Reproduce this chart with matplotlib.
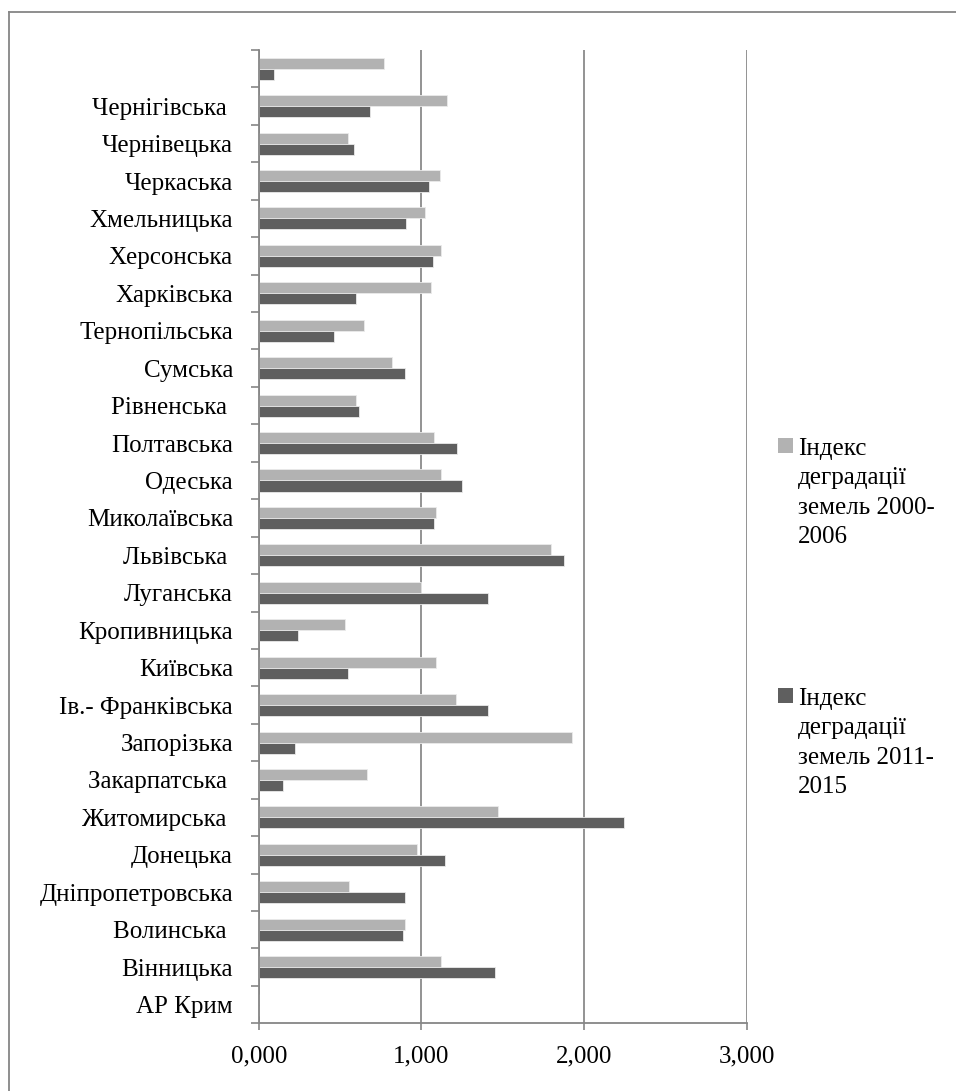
import matplotlib
matplotlib.use("Agg")
import matplotlib.pyplot as plt
from matplotlib.patches import Rectangle
from matplotlib.lines import Line2D
import numpy as np

plt.rcParams["font.family"] = ["Liberation Serif", "DejaVu Serif"]

# Regions, listed bottom to top
regions = ["АР Крим", "Вінницька", "Волинська ", "Дніпропетровська", "Донецька",
           "Житомирська ", "Закарпатська ", "Запорізька", "Ів.- Франківська",
           "Київська", "Кропивницька", "Луганська", "Львівська ", "Миколаївська",
           "Одеська", "Полтавська", "Рівненська ", "Сумська", "Тернопільська",
           "Харківська", "Херсонська", "Хмельницька", "Черкаська", "Чернівецька",
           "Чернігівська ", ""]

index_2000_2006 = [0.000, 1.117, 0.899, 0.556, 0.971, 1.468, 0.665, 1.922, 1.211,
                   1.090, 0.532, 1.000, 1.793, 1.090, 1.123, 1.074, 0.600, 0.819,
                   0.645, 1.057, 1.119, 1.023, 1.113, 0.546, 1.158, 0.768]

index_2011_2015 = [0.000, 1.450, 0.887, 0.897, 1.144, 2.243, 0.148, 0.222, 1.407,
                   0.550, 0.244, 1.409, 1.873, 1.078, 1.251, 1.218, 0.616, 0.901,
                   0.462, 0.600, 1.072, 0.906, 1.045, 0.583, 0.686, 0.097]

series_names = ["Індекс\nдеградації\nземель 2000-\n2006",
                "Індекс\nдеградації\nземель 2011-\n2015"]
x_ticks = [0, 1, 2, 3]

LIGHT = "#b2b2b2"
DARK = "#5f5f5f"
AXIS = "#868686"
FS = 18

W, H = 956, 1091
fig = plt.figure(figsize=(W / 100, H / 100), dpi=100)

left, right, top, bottom = 258.7, 747.0, 50.0, 1023.3
ax = fig.add_axes([left / W, 1 - bottom / H, (right - left) / W, (bottom - top) / H])

y = np.arange(len(regions))
h = 0.294
ax.barh(y + h / 2, index_2000_2006, height=h, color=LIGHT, edgecolor="#eaeaea", linewidth=0.6)
ax.barh(y - h / 2, index_2011_2015, height=h, color=DARK, edgecolor="#eaeaea", linewidth=0.6)

ax.set_xlim(x_ticks[0], x_ticks[-1])
ax.set_ylim(-0.5, len(regions) - 0.5)

ax.set_xticks(x_ticks)
ax.set_xticklabels([f"{v:.3f}".replace(".", ",") for v in x_ticks], fontsize=FS)
ax.set_yticks(y)
ax.set_yticklabels(regions, fontsize=FS)
ax.set_yticks(np.arange(-0.5, len(regions)), minor=True)

ax.tick_params(axis="y", which="major", length=0, pad=18.5)
ax.tick_params(axis="y", which="minor", length=5.8, width=1.2, color=AXIS)
ax.tick_params(axis="x", which="major", length=5, width=1.2, color=AXIS, pad=11)

ax.xaxis.grid(True, color="#8a8a8a", linewidth=1.3)
ax.set_axisbelow(True)
for s in ("top", "right"):
    ax.spines[s].set_visible(False)
for s in ("left", "bottom"):
    ax.spines[s].set_color(AXIS)
    ax.spines[s].set_linewidth(1.3)

# Outer chart frame (top and left edges)
fx, fy = 8.5 / W, 1 - 12.3 / H
fig.add_artist(Line2D([fx, 1.0], [fy, fy], transform=fig.transFigure, color=AXIS, linewidth=1.3))
fig.add_artist(Line2D([fx, fx], [fy, 0.0], transform=fig.transFigure, color=AXIS, linewidth=1.3))

# Legend
for name, col, yc in zip(series_names, [LIGHT, DARK], [445, 695]):
    fig.add_artist(Rectangle((778 / W, 1 - (yc + 7.5) / H), 15 / W, 15 / H,
                             transform=fig.transFigure, facecolor=col, edgecolor="none"))
    fig.text(798 / W, 1 - (yc - 7) / H, name, fontsize=FS, va="top", ha="left",
             linespacing=1.44)

fig.savefig("out.png", dpi=100)
